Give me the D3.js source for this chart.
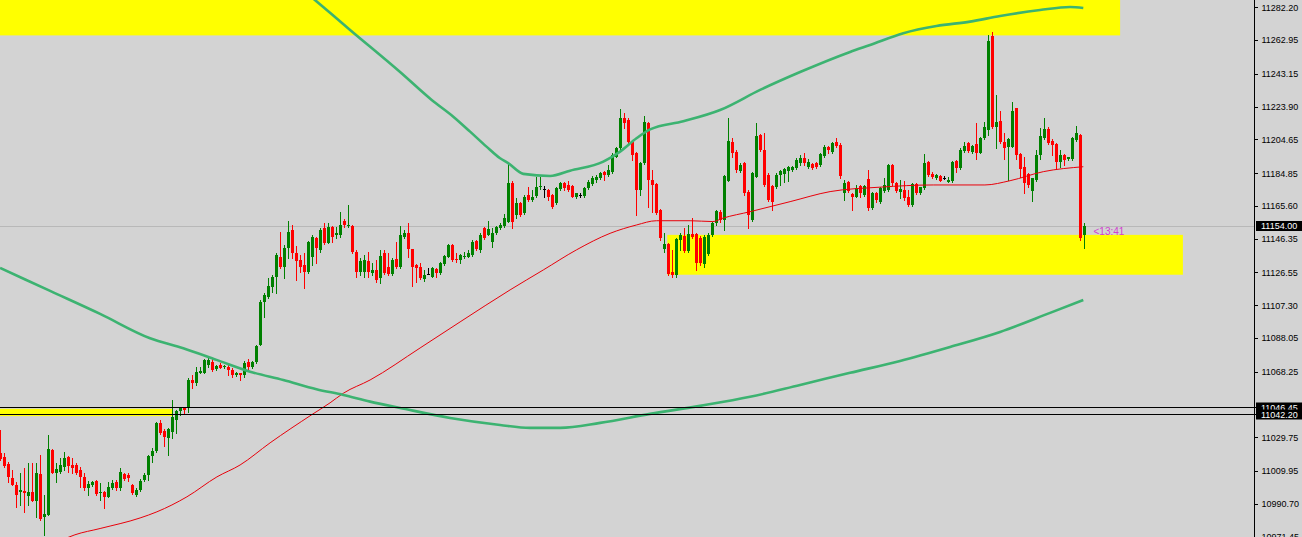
<!DOCTYPE html>
<html><head><meta charset="utf-8">
<script src="https://cdn.jsdelivr.net/npm/d3@7"></script>
<style>html,body{margin:0;padding:0;background:#d3d3d3;overflow:hidden}svg{display:block}</style>
</head><body><svg id="c" width="1302" height="537"></svg>
<script>
// ---- data ----
const opens=[11020.6,11018.4,11014.1,11005.9,11001.8,10997.7,10998.3,10995.4,10997.7,10992.4,11008.3,10983.0,10984.2,11022.4,11008.9,11009.4,11012.4,11018.2,11013.5,11013.5,11010.6,11006.5,11000.0,11001.8,11003.8,10996.9,10997.9,10994.9,10999.9,11003.7,10999.9,11008.3,11007.7,11001.8,10995.9,10998.9,11004.7,11007.7,11018.8,11021.9,11038.0,11033.7,11029.2,11033.1,11040.0,11045.4,11046.8,11046.8,11063.4,11061.5,11067.7,11067.7,11072.2,11074.2,11069.9,11072.2,11071.1,11071.2,11069.3,11066.4,11067.4,11066.4,11074.2,11071.2,11074.2,11083.9,11109.4,11112.3,11118.2,11124.1,11135.8,11129.9,11140.7,11151.5,11138.2,11133.9,11130.9,11127.0,11135.8,11146.6,11139.8,11152.5,11144.0,11153.1,11148.5,11148.6,11157.0,11153.8,11153.8,11138.8,11127.0,11127.0,11133.3,11126.4,11128.0,11123.1,11137.8,11129.9,11125.7,11134.3,11129.9,11147.6,11149.9,11140.2,11130.9,11129.9,11122.5,11125.7,11124.1,11128.4,11126.1,11131.5,11135.8,11142.7,11134.6,11133.9,11135.5,11135.8,11136.8,11145.2,11139.8,11152.5,11148.6,11144.6,11149.5,11152.5,11153.8,11156.4,11179.3,11160.3,11167.2,11161.3,11172.0,11169.1,11171.4,11176.6,11175.4,11175.0,11172.0,11167.2,11175.4,11178.9,11177.9,11177.3,11170.7,11172.0,11171.4,11176.0,11178.5,11180.8,11181.8,11185.7,11183.8,11185.7,11194.5,11199.4,11217.1,11216.1,11203.3,11196.5,11175.0,11190.6,11214.5,11180.8,11178.5,11163.2,11140.2,11143.3,11127.0,11125.1,11145.6,11148.0,11139.3,11149.1,11149.1,11146.6,11131.5,11137.4,11148.6,11155.8,11162.2,11157.4,11180.4,11203.3,11197.5,11186.3,11190.6,11174.0,11157.4,11182.8,11207.3,11198.4,11183.8,11177.3,11176.9,11183.8,11184.4,11186.3,11186.7,11187.7,11190.6,11193.6,11188.6,11190.2,11190.6,11189.6,11194.9,11200.0,11197.5,11203.3,11201.4,11173.0,11179.8,11172.6,11171.0,11177.3,11172.0,11181.2,11164.2,11173.0,11168.1,11174.6,11175.0,11189.6,11179.3,11174.0,11175.0,11170.7,11166.2,11178.5,11173.0,11176.0,11191.6,11184.4,11181.8,11183.2,11181.8,11179.8,11180.4,11192.2,11187.7,11198.0,11202.4,11197.5,11202.0,11196.9,11205.3,11210.2,11265.4,11211.8,11215.6,11203.3,11200.4,11200.4,11222.9,11196.1,11188.6,11184.4,11174.6,11180.8,11195.5,11205.3,11210.6,11203.9,11202.0,11191.6,11195.5,11193.0,11193.0,11204.3,11207.3,11148.6];
const highs=[11034.1,11020.6,11015.3,11010.6,11003.6,11008.9,11011.8,11014.7,11014.7,11014.7,11019.4,10995.9,11031.2,11022.6,11014.7,11017.7,11021.2,11018.8,11017.7,11014.7,11012.4,11008.9,11004.2,11004.2,11004.8,11003.2,10998.5,11003.7,11004.7,11004.7,11012.0,11008.7,11009.0,11002.2,11000.0,11005.5,11009.0,11019.4,11023.5,11039.0,11040.0,11034.5,11035.3,11051.7,11045.8,11047.8,11047.2,11064.4,11066.4,11071.2,11071.2,11075.6,11076.2,11075.6,11072.4,11073.2,11072.4,11073.2,11070.3,11068.0,11067.7,11074.6,11075.6,11074.8,11084.0,11110.4,11114.3,11123.1,11125.1,11137.8,11150.5,11142.7,11157.0,11154.4,11142.1,11136.8,11137.8,11145.2,11148.6,11147.6,11152.5,11155.4,11155.4,11153.8,11153.4,11162.2,11157.8,11166.2,11154.4,11139.8,11135.1,11136.8,11138.8,11132.1,11133.9,11139.8,11139.8,11137.8,11135.1,11144.6,11153.8,11151.5,11155.8,11140.5,11131.5,11131.9,11128.0,11129.0,11129.9,11129.0,11132.9,11136.8,11143.3,11143.3,11137.8,11137.4,11138.8,11139.8,11145.6,11145.6,11149.6,11153.1,11157.0,11152.7,11154.0,11155.8,11160.9,11191.6,11180.3,11170.3,11167.9,11172.0,11176.6,11175.0,11182.4,11182.4,11177.3,11175.4,11172.6,11176.6,11179.8,11179.8,11180.4,11177.9,11173.4,11173.0,11176.6,11180.8,11183.2,11183.8,11185.7,11186.1,11189.6,11196.5,11200.4,11222.3,11220.3,11217.1,11204.3,11197.5,11191.6,11218.4,11215.1,11186.7,11179.3,11163.6,11149.6,11143.7,11139.8,11146.6,11149.6,11152.5,11154.4,11158.4,11149.6,11148.0,11148.6,11149.6,11156.4,11163.2,11163.2,11183.8,11217.1,11205.5,11198.4,11191.0,11191.6,11175.0,11185.7,11214.5,11207.8,11208.2,11184.8,11177.9,11184.8,11186.7,11187.7,11189.1,11188.9,11193.6,11195.5,11196.5,11193.0,11191.0,11191.6,11196.5,11201.4,11200.8,11203.3,11205.3,11202.4,11180.8,11180.4,11173.0,11177.9,11177.9,11177.9,11186.7,11174.0,11174.0,11176.9,11181.8,11190.2,11190.2,11179.8,11180.8,11180.4,11175.0,11178.9,11178.9,11176.9,11196.1,11192.2,11185.7,11184.4,11183.8,11183.2,11182.8,11192.2,11192.6,11199.4,11203.3,11203.3,11201.4,11214.1,11206.3,11215.1,11266.0,11267.9,11230.7,11221.5,11208.3,11205.5,11226.8,11223.3,11196.5,11194.5,11184.8,11182.2,11198.4,11211.2,11217.1,11211.8,11204.7,11202.4,11198.4,11195.9,11194.5,11206.3,11212.5,11207.7,11155.8];
const lows=[11016.5,11012.4,11003.6,11001.5,10988.9,10990.1,10986.0,10990.1,10992.2,10983.0,10981.3,10972.5,10984.0,11008.5,11003.6,11008.9,11010.6,11009.4,11008.9,11008.3,11000.6,10998.9,10995.9,11001.2,10995.9,10993.0,10988.3,10994.5,10999.5,10998.9,10998.9,11004.7,11004.3,10996.5,10995.4,10998.1,11004.0,11004.7,11015.5,11021.4,11031.8,11024.7,11019.4,11029.4,11032.3,11042.9,11043.5,11044.8,11058.7,11060.5,11067.4,11067.4,11071.2,11068.9,11069.4,11070.3,11070.5,11066.4,11065.4,11065.8,11063.4,11065.4,11069.3,11070.3,11073.2,11083.9,11100.6,11111.4,11115.3,11114.3,11129.2,11123.1,11135.1,11135.1,11122.1,11127.0,11117.3,11126.4,11130.9,11131.9,11138.8,11143.2,11143.7,11144.6,11146.6,11147.6,11153.4,11153.4,11137.8,11124.1,11125.1,11124.1,11124.1,11125.1,11121.1,11120.2,11125.5,11125.1,11125.1,11129.0,11129.0,11146.6,11135.5,11118.6,11121.1,11122.6,11121.7,11125.4,11123.7,11124.1,11125.7,11130.9,11135.5,11133.5,11132.9,11132.3,11134.9,11135.5,11136.2,11139.8,11138.8,11146.2,11148.3,11141.3,11149.1,11151.9,11153.4,11156.2,11152.5,11158.5,11159.7,11160.9,11168.7,11168.7,11171.0,11175.4,11171.0,11169.1,11164.2,11166.8,11175.0,11175.0,11174.6,11170.7,11170.3,11171.0,11171.0,11175.4,11177.9,11179.8,11181.2,11180.8,11183.2,11185.1,11194.2,11199.0,11211.2,11202.4,11192.6,11160.3,11172.0,11190.2,11165.2,11162.2,11160.9,11145.6,11138.8,11125.1,11124.1,11124.1,11139.8,11138.8,11138.8,11146.6,11128.0,11130.9,11129.9,11136.8,11148.0,11154.4,11156.4,11151.5,11180.2,11194.5,11185.7,11185.7,11172.0,11152.5,11157.0,11182.4,11198.0,11177.3,11168.7,11163.2,11176.0,11177.9,11179.8,11180.4,11186.1,11187.1,11189.6,11189.6,11187.7,11187.1,11187.7,11189.1,11194.5,11196.9,11196.9,11200.0,11181.8,11169.1,11174.0,11163.2,11170.7,11170.7,11171.4,11163.2,11163.6,11168.1,11167.5,11174.0,11174.6,11177.9,11174.0,11170.1,11169.1,11165.6,11165.6,11172.6,11172.6,11175.4,11183.2,11181.8,11181.2,11180.0,11181.4,11179.8,11179.8,11185.7,11187.1,11197.5,11197.5,11196.9,11193.0,11196.5,11204.7,11207.3,11211.2,11199.4,11202.4,11193.0,11180.8,11200.2,11193.0,11182.8,11173.0,11176.9,11168.7,11180.2,11193.0,11204.9,11202.0,11195.5,11187.1,11188.6,11189.6,11192.6,11192.6,11203.9,11145.6,11140.7];
const closes=[11017.1,11013.1,11006.5,11001.8,10995.9,10998.9,10997.1,10997.7,10992.4,11008.9,10981.8,10984.8,11022.9,11008.9,11011.2,11013.5,11017.7,11013.0,11011.8,11008.9,11006.5,11000.0,11002.4,11003.6,10996.5,10997.9,10994.9,11000.8,11003.2,10999.9,11009.6,11005.1,11005.7,10996.9,10998.9,11004.3,11007.7,11018.8,11021.9,11038.0,11032.5,11029.8,11034.5,11041.5,11045.2,11046.8,11045.8,11063.4,11061.5,11068.3,11068.9,11075.2,11075.2,11069.3,11071.8,11070.7,11071.7,11069.3,11066.4,11067.4,11066.4,11073.2,11071.2,11074.2,11083.6,11109.4,11113.3,11118.6,11124.1,11136.8,11129.9,11140.7,11150.5,11137.8,11133.5,11129.9,11127.0,11144.6,11147.6,11140.7,11151.5,11143.7,11153.1,11147.6,11149.5,11154.4,11154.4,11154.4,11138.8,11127.0,11133.3,11133.9,11127.0,11128.0,11122.1,11136.2,11126.1,11125.7,11133.9,11129.9,11148.6,11149.9,11140.2,11129.9,11129.0,11123.1,11125.1,11125.7,11129.0,11126.1,11132.3,11136.2,11142.7,11133.9,11133.9,11136.8,11136.2,11137.8,11144.6,11140.2,11148.6,11146.6,11151.9,11149.5,11153.4,11154.4,11158.4,11179.3,11156.4,11167.2,11160.3,11171.0,11169.1,11170.7,11176.6,11177.3,11175.4,11171.0,11165.2,11176.0,11179.3,11176.0,11175.0,11171.0,11173.0,11172.0,11176.0,11179.8,11181.8,11182.8,11185.1,11183.8,11186.7,11195.5,11199.4,11217.1,11214.5,11203.3,11195.5,11175.0,11190.6,11215.1,11180.8,11177.9,11161.3,11146.6,11143.3,11125.7,11125.1,11146.0,11148.6,11139.3,11149.1,11147.6,11131.9,11131.9,11147.6,11148.6,11155.8,11162.8,11157.4,11183.2,11203.9,11196.9,11186.7,11189.6,11173.0,11160.3,11184.8,11206.7,11198.4,11177.9,11169.1,11168.1,11183.8,11186.3,11187.1,11188.3,11188.3,11192.6,11193.6,11190.6,11191.6,11187.7,11188.6,11196.1,11200.4,11198.4,11202.7,11200.8,11183.2,11178.9,11174.6,11170.7,11176.0,11173.0,11177.3,11164.2,11173.0,11169.1,11176.0,11177.9,11189.6,11178.9,11174.6,11175.4,11170.1,11166.2,11178.5,11173.0,11176.6,11190.6,11183.8,11182.4,11183.8,11180.4,11181.8,11180.8,11191.6,11187.7,11198.4,11200.8,11198.0,11200.8,11196.9,11205.3,11211.8,11262.6,11212.1,11215.1,11203.3,11199.4,11204.7,11221.5,11195.5,11187.1,11178.9,11177.9,11181.8,11195.5,11206.7,11210.6,11202.4,11201.4,11191.6,11195.5,11192.6,11194.2,11205.3,11208.3,11146.6,11154.0];

const priceTicks=[11282.20,11262.95,11243.15,11223.90,11204.65,11184.85,11165.60,11146.35,11126.55,11107.30,11088.05,11068.25,11029.75,11009.95,10990.70,10971.45];

// red moving average (bar index, price)
const maIdx=[15.4,18.6,24.9,34.9,39.1,46.6,54.1,59.9,67.4,77.8,82.4,85.7,92.4,104.9,114.9,127.4,135.7,144,152.4,159,164,172.4,178.1,180.6,187.4,197.4,207.4,219.9,233.2,246.1,252.4,260.7,270.7];
const maVal=[10969.5,10972.5,10976.2,10982.4,10986.0,10994.8,11006.5,11013.5,11026.5,11043.0,11050.0,11055.6,11063.4,11082.2,11097.5,11116.3,11128.0,11139.8,11149.5,11154.4,11156.9,11156.9,11156.4,11158.4,11162.2,11168.1,11174.0,11176.6,11177.9,11177.9,11180.4,11185.7,11188.6];
// upper green band
const upIdx=[72.4,78.6,87.4,99.9,107.8,113.2,117.4,121.5,124.9,127,130.7,137.4,142.4,150.7,154.9,159,162.4,170.7,179.9,189.9,199.9,212.4,217.4,225.7,234,242.4,249.9,259.9,267.4,270.7];
const upVal=[11298.8,11286.5,11268.9,11244.2,11227.8,11218.0,11209.2,11200.4,11193.6,11190.6,11184.4,11183.2,11186.3,11191.6,11197.5,11205.3,11210.5,11215.3,11221.9,11233.7,11244.2,11256.0,11260.1,11267.0,11271.2,11273.8,11277.1,11280.6,11282.4,11281.8];
// lower green band
const loIdx=[-0.1,12.4,24.9,37.4,45.7,54,62.4,70.7,79,85.7,92.4,99.9,112.4,124.9,132.4,139.9,149.9,162.4,174.9,187.4,199.9,212.4,224.9,237.4,249.9,262.4,270.7];
const loVal=[11129.2,11115.7,11102.2,11087.9,11082.0,11075.2,11068.3,11063.4,11058.0,11054.6,11050.7,11047.0,11041.1,11037.0,11035.3,11035.3,11038.2,11043.5,11048.2,11053.5,11060.5,11067.6,11074.6,11082.8,11091.6,11102.8,11110.4];

// yellow zones: bar-index span and price span
const zoneFrom=[-2,166.7,-2];
const zoneTo=[279.9,295.6,42.9];
const zoneHigh=[11300,11148.6,11046.45];
const zoneLow=[11265.7,11125.2,11042.20];

const hLines=[11046.45,11042.20];
const bidPrice=11154.00;
const timerText="<13:41";

// ---- drawing ----
const W=1302,H=537,axisX=1254;
const svg=d3.select("#c");
const x=d3.scaleLinear().domain([0,271]).range([0.5,1084.5]);
const y=d3.scaleLinear().domain([10971.45,11282.20]).range([536.6,7.3]);
const fmt=d3.format(".2f");

svg.append("rect").attr("width",W).attr("height",H).attr("fill","#d3d3d3");
svg.append("defs").append("clipPath").attr("id","plot").append("rect").attr("x",0).attr("y",0).attr("width",axisX).attr("height",H);
const g=svg.append("g").attr("clip-path","url(#plot)");

// zones
g.selectAll("rect.zone").data(zoneFrom.map((f,i)=>({f,t:zoneTo[i],hi:zoneHigh[i],lo:zoneLow[i]})))
 .join("rect").attr("class","zone")
 .attr("x",d=>x(d.f)).attr("width",d=>x(d.t)-x(d.f))
 .attr("y",d=>y(d.hi)).attr("height",d=>y(d.lo)-y(d.hi))
 .attr("fill","#ffff00");

// bid line
g.append("line").attr("x1",0).attr("x2",axisX).attr("y1",Math.round(y(bidPrice))+0.5).attr("y2",Math.round(y(bidPrice))+0.5)
 .attr("stroke","#b8b8b8").attr("stroke-width",1);

// horizontal lines
svg.selectAll("line.hl").data(hLines).join("line").attr("class","hl")
 .attr("x1",0).attr("x2",W).attr("y1",d=>Math.round(y(d))-1.5).attr("y2",d=>Math.round(y(d))-1.5)
 .attr("stroke","#000").attr("stroke-width",1);

// candles
const bars=d3.range(closes.length).map(i=>({i,o:opens[i],h:highs[i],l:lows[i],c:closes[i]}));
const col=d=>d.c>d.o?"#008000":(d.c<d.o?"#ff0000":"#000");
const cg=g.append("g").attr("shape-rendering","crispEdges");
cg.selectAll("line.wick").data(bars).join("line").attr("class","wick")
 .attr("x1",d=>x(d.i)).attr("x2",d=>x(d.i))
 .attr("y1",d=>Math.round(y(d.h))).attr("y2",d=>Math.round(y(d.l))+1)
 .attr("stroke",col).attr("stroke-width",1);
cg.selectAll("rect.body").data(bars).join("rect").attr("class","body")
 .attr("x",d=>x(d.i)-1.5).attr("width",3)
 .attr("y",d=>Math.round(y(Math.max(d.o,d.c))))
 .attr("height",d=>Math.max(1,Math.round(y(Math.min(d.o,d.c)))-Math.round(y(Math.max(d.o,d.c)))))
 .attr("fill",col);

// moving average (red)
const mline=d3.line().x(d=>x(d[0])).y(d=>y(d[1])).curve(d3.curveMonotoneX);
g.append("path").datum(maIdx.map((v,i)=>[v,maVal[i]])).attr("d",mline)
 .attr("fill","none").attr("stroke","#e8000a").attr("stroke-width",1);
// green bands
g.append("path").datum(upIdx.map((v,i)=>[v,upVal[i]])).attr("d",mline)
 .attr("fill","none").attr("stroke","#3cb371").attr("stroke-width",2.6);
g.append("path").datum(loIdx.map((v,i)=>[v,loVal[i]])).attr("d",mline)
 .attr("fill","none").attr("stroke","#3cb371").attr("stroke-width",2.6);

// timer text
svg.append("text").attr("x",x(271)+9).attr("y",y(bidPrice)+6).attr("dy","0.35em")
 .attr("font-family","Liberation Sans, Arial, sans-serif").attr("font-size",10)
 .attr("fill","#d040d0").text(timerText);

// right axis
const ax=svg.append("g").attr("transform",`translate(${axisX+0.5},0)`)
 .call(d3.axisRight(y).tickValues(priceTicks).tickFormat(fmt).tickSize(3).tickPadding(4));
ax.select(".domain").remove();
ax.selectAll("line").attr("stroke","#000").attr("shape-rendering","crispEdges");
ax.selectAll("text").attr("font-family","Liberation Sans, Arial, sans-serif").attr("font-size",9).attr("fill","#000");
svg.append("line").attr("x1",axisX+0.5).attr("x2",axisX+0.5).attr("y1",0).attr("y2",H).attr("stroke","#000");

// price boxes
const boxes=[{p:hLines[0],dy:-1.5},{p:hLines[1],dy:-1.5},{p:bidPrice,dy:0}];
boxes.forEach(b=>{
  const cy=Math.round(y(b.p))+b.dy;
  svg.append("rect").attr("x",axisX+2).attr("y",cy-5).attr("width",W-axisX-2).attr("height",10).attr("fill","#000");
  svg.append("text").attr("x",axisX+7).attr("y",cy).attr("dy","0.35em")
   .attr("font-family","Liberation Sans, Arial, sans-serif").attr("font-size",9).attr("fill","#fff").text(fmt(b.p));
});
</script></body></html>
